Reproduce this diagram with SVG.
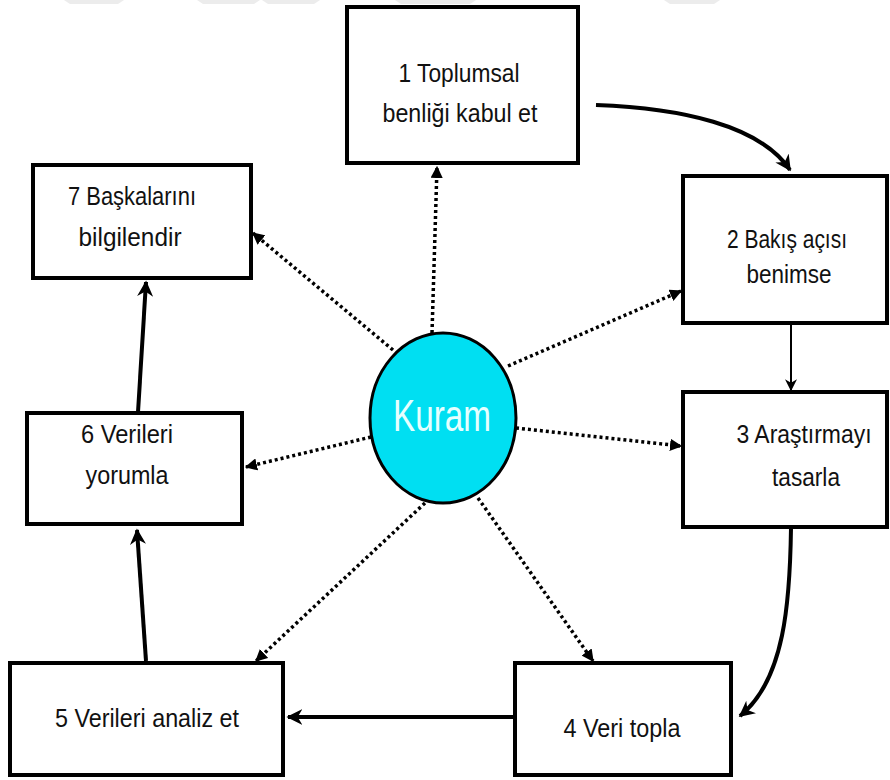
<svg xmlns="http://www.w3.org/2000/svg" width="890" height="780" viewBox="0 0 890 780">
<style>
.box{fill:#fff;stroke:#000;stroke-width:4}
.t{font-family:"Liberation Sans",Arial,sans-serif;font-size:26px;fill:#111;text-anchor:middle}
.solid{fill:none;stroke:#000;stroke-width:4}
.thin{fill:none;stroke:#000;stroke-width:2}
.dot{fill:none;stroke:#000;stroke-width:3.5;stroke-dasharray:3 3}
.wm{fill:#ececec}
</style>
<defs>
<marker id="ah" viewBox="0 0 10 10" refX="9" refY="5" markerWidth="4" markerHeight="4" orient="auto" markerUnits="strokeWidth"><path d="M0,0 L10,5 L0,10 L3,5 z" fill="#000"/></marker>
<marker id="ahs" viewBox="0 0 10 10" refX="9" refY="5" markerWidth="6" markerHeight="6" orient="auto" markerUnits="strokeWidth"><path d="M0,0 L10,5 L0,10 L3,5 z" fill="#000"/></marker>
<marker id="ahd" viewBox="0 0 10 10" refX="9" refY="5" markerWidth="3.5" markerHeight="3.5" orient="auto" markerUnits="strokeWidth"><path d="M0,0 L10,5 L0,10 z" fill="#000"/></marker>
</defs>
<rect width="890" height="780" fill="#fff"/>
<g id="watermark">
<polygon class="wm" points="64,0 124,0 118,4 70,4"/>
<polygon class="wm" points="197,0 260,0 254,4 203,4"/>
<polygon class="wm" points="262,0 320,0 314,4 268,4"/>
<polygon class="wm" points="395,0 452,0 446,4 401,4"/>
<polygon class="wm" points="440,0 476,0 470,4 446,4"/>
<polygon class="wm" points="664,0 720,0 714,4 670,4"/>
</g>
<g id="connectors">
<path class="solid" d="M596,105 C680,108 760,125 790,170" marker-end="url(#ah)"/>
<path class="thin" d="M791,324 L791,390" marker-end="url(#ahs)"/>
<path class="solid" d="M791,528 C790,600 785,680 740,716" marker-end="url(#ah)"/>
<path class="solid" d="M515,717 L288,717" marker-end="url(#ah)"/>
<path class="solid" d="M146,661 L137,530" marker-end="url(#ah)"/>
<path class="solid" d="M138,412 L146,282" marker-end="url(#ah)"/>
<path class="dot" d="M432,333 L437,167" marker-end="url(#ahd)"/>
<path class="dot" d="M508,366 L681,291" marker-end="url(#ahd)"/>
<path class="dot" d="M516,428 L681,446" marker-end="url(#ahd)"/>
<path class="dot" d="M478,498 L593,661" marker-end="url(#ahd)"/>
<path class="dot" d="M425,503 L256,661" marker-end="url(#ahd)"/>
<path class="dot" d="M371,437 L246,467" marker-end="url(#ahd)"/>
<path class="dot" d="M393,350 L253,233" marker-end="url(#ahd)"/>
</g>
<g id="n1"><rect class="box" x="347" y="7" width="231" height="156"/><text class="t" x="459" y="82" textLength="121" lengthAdjust="spacingAndGlyphs">1 Toplumsal</text><text class="t" x="460" y="122" textLength="155" lengthAdjust="spacingAndGlyphs">benliği kabul et</text></g>
<g id="n2"><rect class="box" x="683" y="176" width="204" height="147"/><text class="t" x="787" y="248" textLength="120" lengthAdjust="spacingAndGlyphs">2 Bakış açısı</text><text class="t" x="789" y="283" textLength="85" lengthAdjust="spacingAndGlyphs">benimse</text></g>
<g id="n3"><rect class="box" x="683" y="392" width="204" height="135"/><text class="t" x="804" y="443" textLength="135" lengthAdjust="spacingAndGlyphs">3 Araştırmayı</text><text class="t" x="806" y="486" textLength="68" lengthAdjust="spacingAndGlyphs">tasarla</text></g>
<g id="n4"><rect class="box" x="515" y="663" width="216" height="112"/><text class="t" x="622" y="737" textLength="117" lengthAdjust="spacingAndGlyphs">4 Veri topla</text></g>
<g id="n5"><rect class="box" x="10" y="663" width="273" height="112"/><text class="t" x="147" y="727" textLength="184" lengthAdjust="spacingAndGlyphs">5 Verileri analiz et</text></g>
<g id="n6"><rect class="box" x="27" y="413" width="215" height="111"/><text class="t" x="127" y="443" textLength="92" lengthAdjust="spacingAndGlyphs">6 Verileri</text><text class="t" x="127" y="484" textLength="83" lengthAdjust="spacingAndGlyphs">yorumla</text></g>
<g id="n7"><rect class="box" x="33" y="165" width="218" height="113"/><text class="t" x="132" y="205" textLength="128" lengthAdjust="spacingAndGlyphs">7 Başkalarını</text><text class="t" x="130" y="246" textLength="103" lengthAdjust="spacingAndGlyphs">bilgilendir</text></g>
<g id="kuram"><ellipse cx="443" cy="418" rx="73" ry="85" fill="#00DFF2" stroke="#000" stroke-width="3"/><text x="442" y="431" font-family="'Liberation Sans',Arial,sans-serif" font-size="44" fill="#E6FFFF" text-anchor="middle" textLength="98" lengthAdjust="spacingAndGlyphs">Kuram</text></g>
</svg>
